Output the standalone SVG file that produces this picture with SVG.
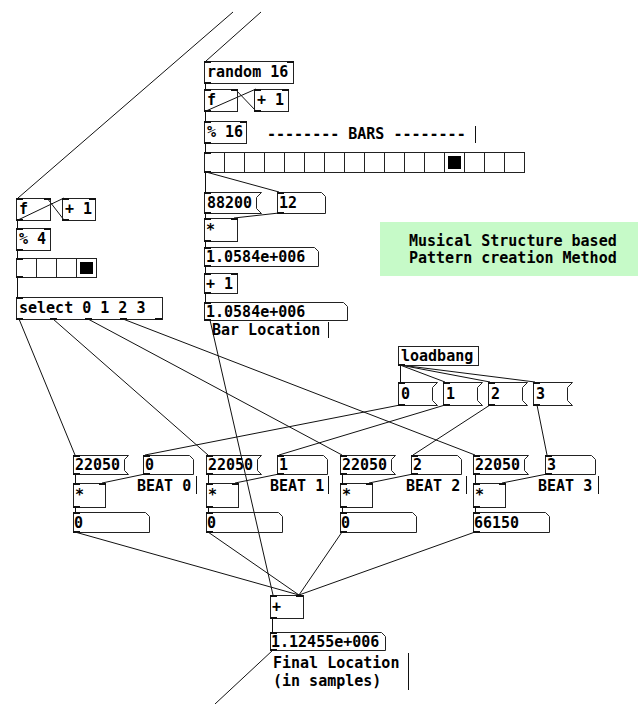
<svg xmlns="http://www.w3.org/2000/svg" width="640" height="704" viewBox="0 0 640 704">
  <style>
    .box { fill: none; stroke: #222; stroke-width: 1; }
    .io { fill: #111; }
    .t { font-family: "DejaVu Sans Mono", "Liberation Mono", monospace; font-weight: bold; font-size: 15px; fill: #000; }
    .wire { stroke: #111; stroke-width: 1; fill: none; }
    .bar { stroke: #111; stroke-width: 1; }
    .cell { stroke: #222; stroke-width: 1; }
  </style>
  <rect width="640" height="704" fill="#fff"/>

  <!-- connections -->
  <g id="connectors" class="wire">
    <line x1="233" y1="12" x2="18" y2="198"/>
    <line x1="261" y1="12" x2="206" y2="61"/>
    <line x1="205.5" y1="83" x2="205.5" y2="89"/>
    <line x1="206" y1="111" x2="256" y2="89"/>
    <line x1="256" y1="111" x2="235" y2="89"/>
    <line x1="205.5" y1="111" x2="205.5" y2="121"/>
    <line x1="205.5" y1="143" x2="205.5" y2="152"/>
    <line x1="205.5" y1="172" x2="205.5" y2="192"/>
    <line x1="206" y1="172" x2="279" y2="192"/>
    <line x1="205.5" y1="213" x2="205.5" y2="218"/>
    <line x1="279" y1="213" x2="234" y2="218"/>
    <line x1="205.5" y1="241" x2="205.5" y2="247"/>
    <line x1="205.5" y1="266" x2="205.5" y2="273"/>
    <line x1="205.5" y1="293" x2="205.5" y2="302"/>
    <line x1="210" y1="320" x2="273" y2="595"/>

    <line x1="18" y1="220" x2="64" y2="198"/>
    <line x1="64" y1="220" x2="47" y2="198"/>
    <line x1="17.5" y1="220" x2="17.5" y2="228"/>
    <line x1="17.5" y1="250" x2="17.5" y2="258"/>
    <line x1="17.5" y1="278" x2="17.5" y2="297"/>
    <line x1="19" y1="319" x2="75" y2="455"/>
    <line x1="53" y1="319" x2="208" y2="455"/>
    <line x1="88" y1="319" x2="342" y2="455"/>
    <line x1="123" y1="319" x2="475" y2="455"/>

    <line x1="400.5" y1="365" x2="400.5" y2="382"/>
    <line x1="400" y1="365" x2="445" y2="382"/>
    <line x1="400" y1="365" x2="490" y2="382"/>
    <line x1="400" y1="365" x2="535" y2="382"/>
    <line x1="400" y1="405" x2="145" y2="455"/>
    <line x1="445" y1="405" x2="279" y2="455"/>
    <line x1="490" y1="405" x2="413" y2="455"/>
    <line x1="537" y1="405" x2="547" y2="455"/>

    <line x1="75.5" y1="474" x2="75.5" y2="483"/>
    <line x1="145" y1="474" x2="102" y2="483"/>
    <line x1="75.5" y1="507" x2="75.5" y2="512"/>
    <line x1="208.5" y1="474" x2="208.5" y2="483"/>
    <line x1="279" y1="474" x2="235" y2="483"/>
    <line x1="208.5" y1="507" x2="208.5" y2="512"/>
    <line x1="342.5" y1="474" x2="342.5" y2="483"/>
    <line x1="413" y1="474" x2="369" y2="483"/>
    <line x1="342.5" y1="507" x2="342.5" y2="512"/>
    <line x1="475.5" y1="474" x2="475.5" y2="483"/>
    <line x1="547" y1="474" x2="502" y2="483"/>
    <line x1="475.5" y1="507" x2="475.5" y2="512"/>

    <line x1="75" y1="532" x2="299" y2="595"/>
    <line x1="208" y1="532" x2="299" y2="595"/>
    <line x1="342" y1="532" x2="299" y2="595"/>
    <line x1="475" y1="532" x2="299" y2="595"/>

    <line x1="272.5" y1="618" x2="272.5" y2="632"/>
    <line x1="273" y1="650" x2="215" y2="704"/>
  </g>

  <!-- bar counter chain -->
  <g id="random16">
    <rect class="box" x="204.5" y="61.5" width="89" height="22"/>
    <rect class="io" x="204" y="61" width="7" height="2"/><rect class="io" x="287" y="61" width="7" height="2"/>
    <rect class="io" x="204" y="82" width="7" height="2"/>
    <text class="t" x="207" y="77">random 16</text>
  </g>
  <g id="barF">
    <rect class="box" x="204.5" y="89.5" width="33" height="22"/>
    <rect class="io" x="204" y="89" width="7" height="2"/><rect class="io" x="231" y="89" width="7" height="2"/>
    <rect class="io" x="204" y="110" width="7" height="2"/>
    <text class="t" x="207" y="105">f</text>
  </g>
  <g id="barPlus">
    <rect class="box" x="254.5" y="89.5" width="34" height="22"/>
    <rect class="io" x="254" y="89" width="7" height="2"/><rect class="io" x="282" y="89" width="7" height="2"/>
    <rect class="io" x="254" y="110" width="7" height="2"/>
    <text class="t" x="257" y="105">+ 1</text>
  </g>
  <g id="barMod">
    <rect class="box" x="204.5" y="121.5" width="42" height="22"/>
    <rect class="io" x="204" y="121" width="7" height="2"/><rect class="io" x="240" y="121" width="7" height="2"/>
    <rect class="io" x="204" y="142" width="7" height="2"/>
    <text class="t" x="207" y="137">% 16</text>
  </g>
  <g id="barsLabel">
    <text class="t" x="267" y="139">-------- BARS --------</text>
    <line class="bar" x1="475.5" y1="126" x2="475.5" y2="143"/>
  </g>
  <g id="barRadio">
    <rect class="box" x="204.5" y="152.5" width="320" height="20"/>
    <g class="cell">
      <line x1="224.5" y1="152" x2="224.5" y2="172"/><line x1="244.5" y1="152" x2="244.5" y2="172"/>
      <line x1="264.5" y1="152" x2="264.5" y2="172"/><line x1="284.5" y1="152" x2="284.5" y2="172"/>
      <line x1="304.5" y1="152" x2="304.5" y2="172"/><line x1="324.5" y1="152" x2="324.5" y2="172"/>
      <line x1="344.5" y1="152" x2="344.5" y2="172"/><line x1="364.5" y1="152" x2="364.5" y2="172"/>
      <line x1="384.5" y1="152" x2="384.5" y2="172"/><line x1="404.5" y1="152" x2="404.5" y2="172"/>
      <line x1="424.5" y1="152" x2="424.5" y2="172"/><line x1="444.5" y1="152" x2="444.5" y2="172"/>
      <line x1="464.5" y1="152" x2="464.5" y2="172"/><line x1="484.5" y1="152" x2="484.5" y2="172"/>
      <line x1="504.5" y1="152" x2="504.5" y2="172"/>
    </g>
    <rect x="448" y="156" width="13" height="13" fill="#000"/>
    <rect class="io" x="204" y="152" width="7" height="2"/>
    <rect class="io" x="204" y="171" width="7" height="2"/>
  </g>
  <g id="msg88200">
    <polygon class="box" points="204.5,192.5 261.5,192.5 256.5,197.5 256.5,208.5 261.5,213.5 204.5,213.5"/>
    <rect class="io" x="204" y="192" width="7" height="2"/><rect class="io" x="204" y="212" width="7" height="2"/>
    <text class="t" x="207" y="208">88200</text>
  </g>
  <g id="numBar">
    <polygon class="box" points="277.5,192.5 321.5,192.5 325.5,196.5 325.5,213.5 277.5,213.5"/>
    <rect class="io" x="277" y="192" width="7" height="2"/><rect class="io" x="277" y="212" width="7" height="2"/>
    <text class="t" x="279" y="208">12</text>
  </g>
  <g id="barMul">
    <rect class="box" x="204.5" y="218.5" width="33" height="23"/>
    <rect class="io" x="204" y="218" width="7" height="2"/><rect class="io" x="231" y="218" width="7" height="2"/>
    <rect class="io" x="204" y="240" width="7" height="2"/>
    <text class="t" x="206" y="235">*</text>
  </g>
  <g id="numOffset">
    <polygon class="box" points="204.5,247.5 314.5,247.5 318.5,251.5 318.5,266.5 204.5,266.5"/>
    <rect class="io" x="204" y="247" width="7" height="2"/><rect class="io" x="204" y="265" width="7" height="2"/>
    <text class="t" x="206" y="262">1.0584e+006</text>
  </g>
  <g id="barAdd">
    <rect class="box" x="204.5" y="273.5" width="33" height="20"/>
    <rect class="io" x="204" y="273" width="7" height="2"/><rect class="io" x="231" y="273" width="7" height="2"/>
    <rect class="io" x="204" y="292" width="7" height="2"/>
    <text class="t" x="206" y="289">+ 1</text>
  </g>
  <g id="numBarLocation">
    <polygon class="box" points="204.5,302.5 343.5,302.5 347.5,306.5 347.5,320.5 204.5,320.5"/>
    <rect class="io" x="204" y="302" width="7" height="2"/><rect class="io" x="204" y="319" width="7" height="2"/>
    <text class="t" x="206" y="317">1.0584e+006</text>
  </g>
  <g id="barLocationLabel">
    <text class="t" x="212" y="335">Bar Location</text>
    <line class="bar" x1="328.5" y1="322" x2="328.5" y2="338"/>
  </g>

  <!-- beat counter chain -->
  <g id="beatF">
    <rect class="box" x="16.5" y="198.5" width="34" height="22"/>
    <rect class="io" x="16" y="198" width="7" height="2"/><rect class="io" x="44" y="198" width="7" height="2"/>
    <rect class="io" x="16" y="219" width="7" height="2"/>
    <text class="t" x="19" y="214">f</text>
  </g>
  <g id="beatPlus">
    <rect class="box" x="62.5" y="198.5" width="33" height="22"/>
    <rect class="io" x="62" y="198" width="7" height="2"/><rect class="io" x="89" y="198" width="7" height="2"/>
    <rect class="io" x="62" y="219" width="7" height="2"/>
    <text class="t" x="65" y="214">+ 1</text>
  </g>
  <g id="beatMod">
    <rect class="box" x="16.5" y="228.5" width="34" height="22"/>
    <rect class="io" x="16" y="228" width="7" height="2"/><rect class="io" x="44" y="228" width="7" height="2"/>
    <rect class="io" x="16" y="249" width="7" height="2"/>
    <text class="t" x="19" y="244">% 4</text>
  </g>
  <g id="beatRadio">
    <rect class="box" x="16.5" y="258.5" width="80" height="19"/>
    <g class="cell">
      <line x1="36.5" y1="258" x2="36.5" y2="277"/><line x1="56.5" y1="258" x2="56.5" y2="277"/>
      <line x1="76.5" y1="258" x2="76.5" y2="277"/>
    </g>
    <rect x="80" y="262" width="13" height="12" fill="#000"/>
    <rect class="io" x="16" y="258" width="7" height="2"/>
    <rect class="io" x="16" y="276" width="7" height="2"/>
  </g>
  <g id="select">
    <rect class="box" x="16.5" y="297.5" width="146" height="22"/>
    <rect class="io" x="16" y="297" width="7" height="2"/>
    <rect class="io" x="16" y="318" width="7" height="2"/><rect class="io" x="50" y="318" width="7" height="2"/>
    <rect class="io" x="85" y="318" width="7" height="2"/><rect class="io" x="120" y="318" width="7" height="2"/>
    <rect class="io" x="155" y="318" width="7" height="2"/>
    <text class="t" x="19" y="313">select 0 1 2 3</text>
  </g>

  <!-- title note -->
  <g id="title">
    <rect x="380" y="222" width="258" height="54" fill="#c6fac8"/>
    <text class="t" x="409" y="246">Musical Structure based</text>
    <text class="t" x="409" y="263">Pattern creation Method</text>
  </g>

  <!-- beat values -->
  <g id="loadbang">
    <rect class="box" x="398.5" y="346.5" width="80" height="19"/>
    <rect class="io" x="398" y="364" width="7" height="2"/>
    <text class="t" x="401" y="361">loadbang</text>
  </g>
  <g id="msg0">
    <polygon class="box" points="398.5,382.5 437.5,382.5 432.5,387.5 432.5,400.5 437.5,405.5 398.5,405.5"/>
    <rect class="io" x="398" y="382" width="7" height="2"/><rect class="io" x="398" y="404" width="7" height="2"/>
    <text class="t" x="401" y="399">0</text>
  </g>
  <g id="msg1">
    <polygon class="box" points="443.5,382.5 482.5,382.5 477.5,387.5 477.5,400.5 482.5,405.5 443.5,405.5"/>
    <rect class="io" x="443" y="382" width="7" height="2"/><rect class="io" x="443" y="404" width="7" height="2"/>
    <text class="t" x="446" y="399">1</text>
  </g>
  <g id="msg2">
    <polygon class="box" points="488.5,382.5 527.5,382.5 522.5,387.5 522.5,400.5 527.5,405.5 488.5,405.5"/>
    <rect class="io" x="488" y="382" width="7" height="2"/><rect class="io" x="488" y="404" width="7" height="2"/>
    <text class="t" x="491" y="399">2</text>
  </g>
  <g id="msg3">
    <polygon class="box" points="533.5,382.5 572.5,382.5 567.5,387.5 567.5,400.5 572.5,405.5 533.5,405.5"/>
    <rect class="io" x="533" y="382" width="7" height="2"/><rect class="io" x="533" y="404" width="7" height="2"/>
    <text class="t" x="536" y="399">3</text>
  </g>

  <!-- beat 0 -->
  <g id="beat0">
    <polygon class="box" points="73.5,455.5 128.5,455.5 124.5,459.5 124.5,470.5 128.5,474.5 73.5,474.5"/>
    <rect class="io" x="73" y="455" width="7" height="2"/><rect class="io" x="73" y="473" width="7" height="2"/>
    <text class="t" x="75" y="470">22050</text>
    <polygon class="box" points="143.5,455.5 189.5,455.5 193.5,459.5 193.5,474.5 143.5,474.5"/>
    <rect class="io" x="143" y="455" width="7" height="2"/><rect class="io" x="143" y="473" width="7" height="2"/>
    <text class="t" x="145" y="470">0</text>
    <text class="t" x="137" y="491">BEAT 0</text>
    <line class="bar" x1="196.5" y1="476" x2="196.5" y2="494"/>
    <rect class="box" x="73.5" y="483.5" width="32" height="24"/>
    <rect class="io" x="73" y="483" width="7" height="2"/><rect class="io" x="99" y="483" width="7" height="2"/>
    <rect class="io" x="73" y="506" width="7" height="2"/>
    <text class="t" x="75" y="500">*</text>
    <polygon class="box" points="73.5,512.5 145.5,512.5 149.5,516.5 149.5,532.5 73.5,532.5"/>
    <rect class="io" x="73" y="512" width="7" height="2"/><rect class="io" x="73" y="531" width="7" height="2"/>
    <text class="t" x="74" y="528">0</text>
  </g>

  <!-- beat 1 -->
  <g id="beat1">
    <polygon class="box" points="206.5,455.5 261.5,455.5 257.5,459.5 257.5,470.5 261.5,474.5 206.5,474.5"/>
    <rect class="io" x="206" y="455" width="7" height="2"/><rect class="io" x="206" y="473" width="7" height="2"/>
    <text class="t" x="208" y="470">22050</text>
    <polygon class="box" points="277.5,455.5 323.5,455.5 327.5,459.5 327.5,474.5 277.5,474.5"/>
    <rect class="io" x="277" y="455" width="7" height="2"/><rect class="io" x="277" y="473" width="7" height="2"/>
    <text class="t" x="279" y="470">1</text>
    <text class="t" x="270" y="491">BEAT 1</text>
    <line class="bar" x1="328.5" y1="476" x2="328.5" y2="494"/>
    <rect class="box" x="206.5" y="483.5" width="32" height="24"/>
    <rect class="io" x="206" y="483" width="7" height="2"/><rect class="io" x="232" y="483" width="7" height="2"/>
    <rect class="io" x="206" y="506" width="7" height="2"/>
    <text class="t" x="208" y="500">*</text>
    <polygon class="box" points="206.5,512.5 278.5,512.5 282.5,516.5 282.5,532.5 206.5,532.5"/>
    <rect class="io" x="206" y="512" width="7" height="2"/><rect class="io" x="206" y="531" width="7" height="2"/>
    <text class="t" x="207" y="528">0</text>
  </g>

  <!-- beat 2 -->
  <g id="beat2">
    <polygon class="box" points="340.5,455.5 395.5,455.5 391.5,459.5 391.5,470.5 395.5,474.5 340.5,474.5"/>
    <rect class="io" x="340" y="455" width="7" height="2"/><rect class="io" x="340" y="473" width="7" height="2"/>
    <text class="t" x="342" y="470">22050</text>
    <polygon class="box" points="411.5,455.5 457.5,455.5 461.5,459.5 461.5,474.5 411.5,474.5"/>
    <rect class="io" x="411" y="455" width="7" height="2"/><rect class="io" x="411" y="473" width="7" height="2"/>
    <text class="t" x="413" y="470">2</text>
    <text class="t" x="406" y="491">BEAT 2</text>
    <line class="bar" x1="466.5" y1="476" x2="466.5" y2="494"/>
    <rect class="box" x="340.5" y="483.5" width="32" height="24"/>
    <rect class="io" x="340" y="483" width="7" height="2"/><rect class="io" x="366" y="483" width="7" height="2"/>
    <rect class="io" x="340" y="506" width="7" height="2"/>
    <text class="t" x="342" y="500">*</text>
    <polygon class="box" points="340.5,512.5 412.5,512.5 416.5,516.5 416.5,532.5 340.5,532.5"/>
    <rect class="io" x="340" y="512" width="7" height="2"/><rect class="io" x="340" y="531" width="7" height="2"/>
    <text class="t" x="341" y="528">0</text>
  </g>

  <!-- beat 3 -->
  <g id="beat3">
    <polygon class="box" points="473.5,455.5 528.5,455.5 524.5,459.5 524.5,470.5 528.5,474.5 473.5,474.5"/>
    <rect class="io" x="473" y="455" width="7" height="2"/><rect class="io" x="473" y="473" width="7" height="2"/>
    <text class="t" x="475" y="470">22050</text>
    <polygon class="box" points="545.5,455.5 591.5,455.5 595.5,459.5 595.5,474.5 545.5,474.5"/>
    <rect class="io" x="545" y="455" width="7" height="2"/><rect class="io" x="545" y="473" width="7" height="2"/>
    <text class="t" x="547" y="470">3</text>
    <text class="t" x="538" y="491">BEAT 3</text>
    <line class="bar" x1="598.5" y1="476" x2="598.5" y2="494"/>
    <rect class="box" x="473.5" y="483.5" width="32" height="24"/>
    <rect class="io" x="473" y="483" width="7" height="2"/><rect class="io" x="499" y="483" width="7" height="2"/>
    <rect class="io" x="473" y="506" width="7" height="2"/>
    <text class="t" x="475" y="500">*</text>
    <polygon class="box" points="473.5,512.5 545.5,512.5 549.5,516.5 549.5,532.5 473.5,532.5"/>
    <rect class="io" x="473" y="512" width="7" height="2"/><rect class="io" x="473" y="531" width="7" height="2"/>
    <text class="t" x="474" y="528">66150</text>
  </g>

  <!-- final sum -->
  <g id="sum">
    <rect class="box" x="270.5" y="595.5" width="33" height="23"/>
    <rect class="io" x="270" y="595" width="7" height="2"/><rect class="io" x="296" y="595" width="7" height="2"/>
    <rect class="io" x="270" y="617" width="7" height="2"/>
    <text class="t" x="272" y="612">+</text>
  </g>
  <g id="finalLocation">
    <polygon class="box" points="270.5,632.5 381.5,632.5 385.5,636.5 385.5,650.5 270.5,650.5"/>
    <rect class="io" x="270" y="632" width="7" height="2"/><rect class="io" x="270" y="649" width="7" height="2"/>
    <text class="t" x="271" y="647">1.12455e+006</text>
  </g>
  <g id="finalLabel">
    <text class="t" x="273" y="668">Final Location</text>
    <text class="t" x="273" y="686">(in samples)</text>
    <line class="bar" x1="408.5" y1="653" x2="408.5" y2="690"/>
  </g>
</svg>
